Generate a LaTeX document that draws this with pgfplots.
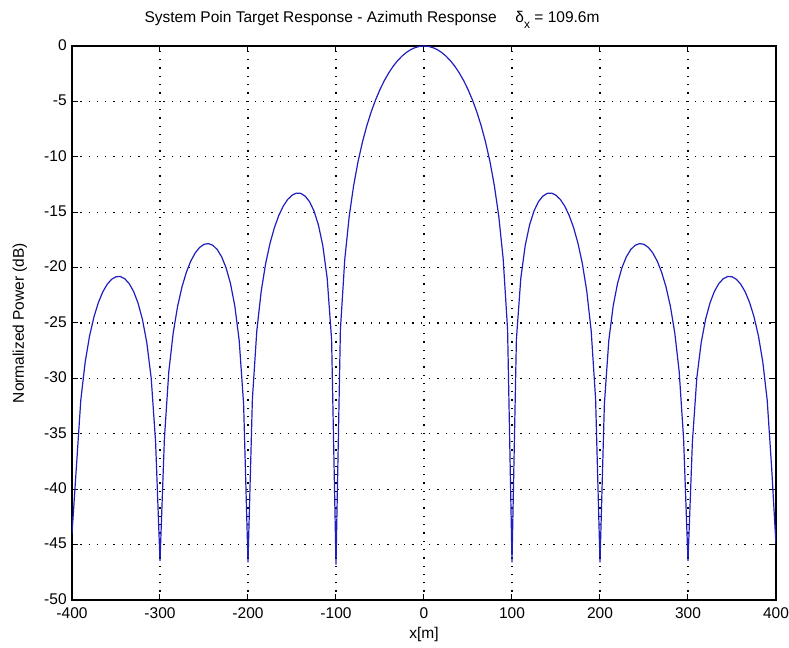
\documentclass[border=0pt]{standalone}
\usepackage{pgfplots}
\pgfplotsset{compat=1.18}
\usepackage{fontspec}
\setmainfont{Liberation Sans}
\begin{document}
\fontsize{15.5bp}{18bp}\selectfont
\begin{tikzpicture}
\path[use as bounding box] (-72bp,-48bp) rectangle (717bp,600bp);
\begin{axis}[
  at={(0,0)}, anchor=south west,
  scale only axis,
  width=704bp, height=554bp,
  xmin=-400, xmax=400, ymin=-50, ymax=0,
  xtick={-400,-300,-200,-100,0,100,200,300,400},
  xticklabels={-400,-300,-200,-100,0,100,200,300,400},
  ytick={-50,-45,-40,-35,-30,-25,-20,-15,-10,-5,0},
  yticklabels={-50,-45,-40,-35,-30,-25,-20,-15,-10,-5,0},
  tick align=inside, xtick pos=both, ytick pos=both,
  major tick length=6bp,
  every tick/.style={black, line width=1bp},
  axis line style={black, line width=1.2bp},
  grid=major,
  major grid style={black, line width=1.3bp, dash pattern=on 1.3bp off 7bp},
  xlabel={x[m]}, ylabel={Normalized Power (dB)},
  every axis x label/.style={at={(axis description cs:0.5,-0.063)}, anchor=center},
  every axis y label/.style={at={(axis description cs:-0.074,0.5)}, rotate=90, anchor=center},
  xticklabel style={font=\fontsize{15.5bp}{18bp}\selectfont, yshift=-2bp},
  yticklabel style={font=\fontsize{15.5bp}{18bp}\selectfont, yshift=1bp},
]
\addplot[color={rgb,255:red,30;green,30;blue,190}, line width=1.2bp] table {
x y
-400 -44.0
-395 -37.988
-390 -31.964
-385 -28.511
-380 -26.154
-375 -24.434
-370 -23.148
-365 -22.191
-360 -21.505
-355 -21.055
-350 -20.824
-345 -20.807
-340 -21.009
-335 -21.446
-330 -22.154
-325 -23.191
-320 -24.662
-315 -26.768
-310 -29.971
-305 -35.742
-300 -46.5
-295 -35.453
-290 -29.391
-285 -25.899
-280 -23.502
-275 -21.740
-270 -20.411
-265 -19.410
-260 -18.679
-255 -18.181
-250 -17.902
-245 -17.834
-240 -17.983
-235 -18.367
-230 -19.019
-225 -19.997
-220 -21.407
-215 -23.451
-210 -26.588
-205 -32.292
-200 -46.6
-195 -31.858
-190 -25.718
-185 -22.145
-180 -19.663
-175 -17.814
-170 -16.393
-165 -15.296
-160 -14.462
-155 -13.858
-150 -13.465
-145 -13.278
-140 -13.302
-135 -13.552
-130 -14.063
-125 -14.891
-120 -16.142
-115 -18.016
-110 -20.971
-105 -26.480
-100 -46.8
-95 -25.611
-90 -19.228
-85 -15.391
-80 -12.620
-75 -10.454
-70 -8.686
-65 -7.204
-60 -5.942
-55 -4.858
-50 -3.922
-45 -3.115
-40 -2.420
-35 -1.827
-30 -1.326
-25 -0.912
-20 -0.579
-15 -0.324
-10 -0.143
-5 -0.036
0 0
5 -0.036
10 -0.143
15 -0.324
20 -0.579
25 -0.912
30 -1.326
35 -1.827
40 -2.420
45 -3.115
50 -3.922
55 -4.858
60 -5.942
65 -7.204
70 -8.686
75 -10.454
80 -12.620
85 -15.391
90 -19.228
95 -25.611
100 -46.6
105 -26.480
110 -20.971
115 -18.016
120 -16.142
125 -14.891
130 -14.063
135 -13.552
140 -13.302
145 -13.278
150 -13.465
155 -13.858
160 -14.462
165 -15.296
170 -16.393
175 -17.814
180 -19.663
185 -22.145
190 -25.718
195 -31.858
200 -46.6
205 -32.292
210 -26.588
215 -23.451
220 -21.407
225 -19.997
230 -19.019
235 -18.367
240 -17.983
245 -17.834
250 -17.902
255 -18.181
260 -18.679
265 -19.410
270 -20.411
275 -21.740
280 -23.502
285 -25.899
290 -29.391
295 -35.453
300 -46.5
305 -35.742
310 -29.971
315 -26.768
320 -24.662
325 -23.191
330 -22.154
335 -21.446
340 -21.009
345 -20.807
350 -20.824
355 -21.055
360 -21.505
365 -22.191
370 -23.148
375 -24.434
380 -26.154
385 -28.511
390 -31.964
395 -37.988
400 -45.0
};
\end{axis}
\node[anchor=center] at (300bp,580bp) {System Poin Target Response - Azimuth Response\hspace{1.2em}δ\raisebox{-0.4em}{\fontsize{12bp}{14bp}\selectfont x} = 109.6m};
\end{tikzpicture}
\end{document}
